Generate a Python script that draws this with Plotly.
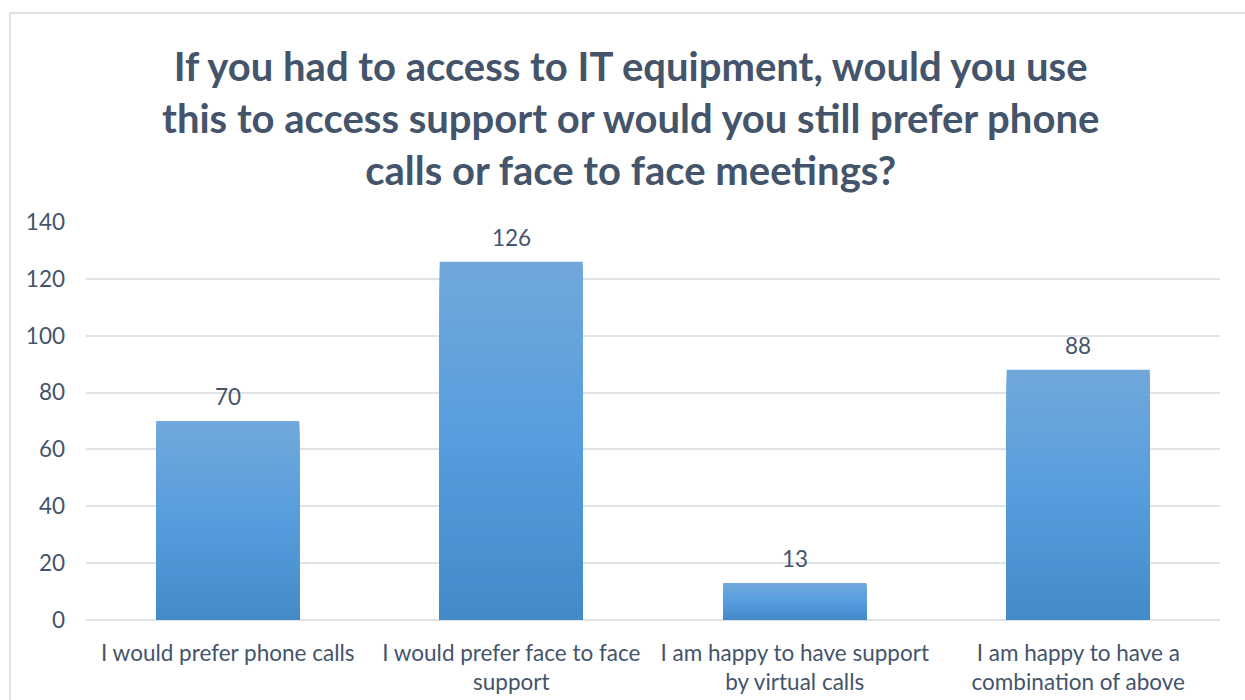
import plotly.graph_objects as go

categories = [
    "I would prefer phone calls",
    "I would prefer face to face<br>support",
    "I am happy to have support<br>by virtual calls",
    "I am happy to have a<br>combination of above",
]
responses = [70, 126, 13, 88]
y_ticks = [0, 20, 40, 60, 80, 100, 120, 140]

title_text = ("If you had to access to IT equipment, would you use<br>"
              "this to access support or would you still prefer phone<br>"
              "calls or face to face meetings?")

TEXT = "#44546A"
FONT = "Lato"
FS = 22.5

# plot area in pixels
L, R, T, B = 86, 25, 222, 80
PW, PH = 1245 - L - R, 700 - T - B

# vertical gradient stops (fraction of bar height -> rgb), bottom to top
stops = [(0.0, (67, 138, 201)), (0.5, (86, 157, 221)), (1.0, (113, 168, 220))]


def grad(f):
    for (f0, c0), (f1, c1) in zip(stops, stops[1:]):
        if f <= f1:
            t = (f - f0) / (f1 - f0)
            return "rgb(%d,%d,%d)" % tuple(round(a + (b - a) * t) for a, b in zip(c0, c1))
    return "rgb(%d,%d,%d)" % stops[-1][1]


fig = go.Figure()

# each bar is painted as overlaid copies, tallest first, shrinking toward the
# base so the fill fades from light at the top to darker at the bottom
N = 48
for k in range(N):
    frac = (N - k) / N
    fig.add_trace(go.Bar(
        x=categories,
        y=[v * frac for v in responses],
        marker=dict(color=grad(frac - 0.5 / N), line=dict(width=0)),
        width=0.505,
        hoverinfo="skip" if k else None,
        showlegend=False,
    ))

for c, v in zip(categories, responses):
    fig.add_annotation(
        x=c, y=v, text=str(v), showarrow=False,
        yanchor="bottom", yshift=9,
        font=dict(family=FONT, size=FS, color=TEXT),
    )

# chart title, centred on the frame
fig.add_annotation(
    text=title_text, showarrow=False, xref="paper", yref="paper",
    x=(630 - L) / PW, xanchor="center",
    y=1 + (T - 118) / PH, yanchor="middle",
    font=dict(family=FONT, size=40, color=TEXT, weight="bold"),
)

# outer chart frame
fig.add_shape(
    type="rect", xref="paper", yref="paper",
    x0=(10 - L) / PW, x1=1.06, y0=-0.3, y1=1 + (T - 13) / PH,
    line=dict(color="#D9D9D9", width=1.5), fillcolor="rgba(0,0,0,0)", layer="below",
)

fig.update_layout(
    width=1245, height=700,
    margin=dict(l=L, r=R, t=T, b=B, autoexpand=False),
    paper_bgcolor="white", plot_bgcolor="white",
    barmode="overlay",
    font=dict(family=FONT, size=FS, color=TEXT),
    xaxis=dict(
        showgrid=False, showline=False, ticks="", automargin=False,
        ticklabelstandoff=17,
        tickfont=dict(family=FONT, size=FS, color=TEXT),
    ),
    yaxis=dict(
        range=[0, 140], tickvals=y_ticks, showgrid=True, automargin=False,
        gridcolor="#DFE3E8", gridwidth=1.5, zeroline=True,
        zerolinecolor="#DFE3E8", zerolinewidth=1.5, ticks="",
        ticklabelstandoff=20,
        tickfont=dict(family=FONT, size=FS, color=TEXT),
    ),
)

fig.write_html("out.html")
